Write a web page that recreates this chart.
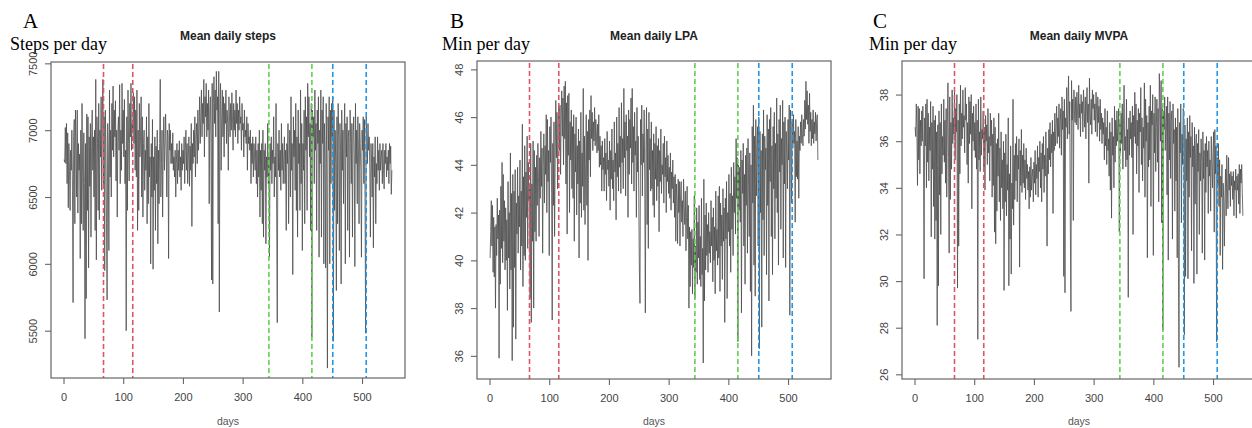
<!DOCTYPE html>
<html>
<head>
<meta charset="utf-8">
<script src="https://cdn.jsdelivr.net/npm/d3@7"></script>
<style>
  body { margin: 0; background: #fff; }
  svg { display: block; }
</style>
</head>
<body>
<div id="chart"></div>
<script>
// Mean daily steps, days 1..550
const stepsValues = [
  6780, 6760, 7020, 6750, 7050, 6600, 6980, 6420, 6900, 6700,
  6400, 6850, 6700, 7000, 6550, 5710, 6950, 7080, 6300, 7150,
  6880, 6500, 7150, 6380, 6900, 6700, 6820, 6040, 7000, 6300,
  7200, 6650, 6250, 6980, 6600, 5440, 6900, 5740, 7120, 6400,
  7100, 5970, 6950, 6580, 7050, 6200, 6880, 7150, 6700, 6950,
  6500, 7000, 6250, 7380, 6030, 7100, 6900, 6400, 7200, 6330,
  7000, 6800, 7250, 6550, 7120, 7380, 6600, 7100, 5950, 7150,
  6900, 6300, 5730, 7050, 6850, 6100, 7300, 6650, 7000, 6500,
  7200, 6850, 7330, 6800, 7150, 6950, 7220, 6620, 7000, 6350,
  6980, 7100, 6850, 7340, 6600, 7000, 6700, 7350, 6900, 7150,
  6800, 7230, 6600, 6850, 5500, 7100, 6400, 7300, 6900, 6620,
  7200, 6950, 7350, 6850, 7050, 7000, 7280, 6900, 7250, 6700,
  7150, 6650, 7300, 6250, 7000, 6400, 7200, 6800, 6950, 7250,
  6500, 7100, 6350, 6900, 7000, 6550, 6850, 6700, 7100, 6300,
  6950, 6450, 7200, 6650, 6800, 6000, 6900, 6500, 7080, 5960,
  6800, 6550, 6950, 6250, 6880, 6600, 7000, 6150, 6850, 6450,
  6900, 7380, 6500, 6750, 7000, 6350, 6850, 7100, 6700, 6900,
  7120, 6850, 6500, 7000, 6950, 6040, 7050, 6850, 7000, 6750,
  6900, 6750, 6980, 6700, 6800, 6650, 6850, 6500, 6750, 6900,
  6600, 6850, 6700, 6920, 6650, 6800, 6550, 6900, 6700, 6850,
  6750, 6950, 6600, 6850, 7000, 6700, 6900, 6600, 6800, 6950,
  6580, 6880, 6700, 7050, 6280, 6900, 6750, 7000, 6800, 7100,
  6650, 6950, 7050, 6750, 7150, 6850, 7000, 7250, 6900, 7100,
  7300, 6950, 7200, 7050, 7380, 6800, 7250, 7100, 7350, 6950,
  7200, 7000, 7300, 6450, 7150, 7250, 6900, 5880, 7350, 5850,
  7200, 7400, 7050, 7300, 6950, 7440, 7150, 7250, 6300, 7440,
  5640, 7200, 7350, 6700, 7100, 7300, 6950, 7250, 6800, 7200,
  7050, 7300, 6900, 7150, 7050, 6700, 7250, 7100, 6950, 7200,
  7000, 7280, 7100, 6850, 7200, 7000, 7150, 6950, 7300, 7050,
  7200, 6900, 7150, 7000, 7250, 7050, 7100, 6850, 7200, 7000,
  7050, 6800, 7150, 6950, 7000, 6900, 7100, 6700, 7050, 6900,
  6950, 6850, 7000, 6600, 6900, 6750, 6950, 6650, 6900, 6800,
  6700, 6950, 6600, 6850, 6500, 6900, 6650, 7000, 6350, 6850,
  6550, 6900, 6300, 7000, 6200, 6850, 6700, 6900, 6150, 6800,
  6650, 7050, 6600, 6800, 6050, 6900, 6700, 6950, 6600, 6850,
  6750, 7100, 6500, 6800, 6650, 7200, 6400, 5560, 6900, 6700,
  7000, 6650, 6850, 6550, 7050, 6700, 6900, 6600, 6800, 6950,
  6600, 6850, 6250, 6900, 6750, 7050, 6300, 6800, 7000, 6500,
  7250, 6700, 6900, 5920, 7100, 6800, 7000, 6550, 7200, 6400,
  6950, 6200, 7150, 6750, 6900, 6400, 7300, 6600, 7050, 6100,
  6900, 6700, 7150, 6300, 7250, 6850, 7100, 6400, 7350, 6950,
  7250, 6800, 7050, 6250, 7200, 5450, 7150, 6950, 7100, 6600,
  7300, 6850, 7050, 6250, 7150, 6900, 7250, 6050, 7000, 6750,
  7300, 6200, 7150, 6900, 7250, 6000, 7050, 6800, 5970, 7200,
  6700, 5220, 7100, 6850, 7250, 6000, 7150, 6600, 7200, 6950,
  7250, 5420, 7150, 6400, 7000, 6750, 5800, 7100, 6300, 7200,
  6950, 6100, 7050, 6850, 5850, 7150, 6700, 7000, 6450, 6980,
  7200, 6000, 7050, 6800, 7100, 6250, 6950, 7000, 6050, 7150,
  6900, 6600, 7050, 6200, 6950, 7100, 6800, 5980, 7200, 6750,
  7000, 6450, 7100, 6850, 6300, 7050, 6900, 6700, 6050, 7000,
  6850, 7100, 6600, 7080, 6500, 5480, 7100, 6950, 6750, 7050,
  6850, 6950, 6700, 6200, 6900, 6750, 6500, 6900, 6120, 6800,
  6650, 6950, 6300, 6750, 6600, 6950, 6700, 6850, 6550, 6900,
  6700, 6800, 6850, 6600, 6900, 6700, 6560, 6850, 6750, 6900,
  6650, 6800, 6700, 6850, 6600, 6900, 6750, 6880, 6520, 6700
]

// Mean daily LPA (min), days 1..550
const lpaValues = [
  40.1, 41.2, 42.5, 40.6, 42.3, 39.5, 41.8, 39.3, 41.4, 38.0,
  41.5, 40.2, 42.6, 40.9, 41.9, 35.9, 42.1, 39.0, 43.1, 40.5,
  44.1, 39.9, 43.6, 40.8, 42.5, 39.6, 42.2, 40.0, 41.7, 37.9,
  43.3, 40.1, 42.0, 38.8, 44.5, 39.6, 42.8, 35.8, 43.6, 37.2,
  42.9, 39.7, 43.8, 36.7, 42.4, 41.1, 43.9, 40.3, 42.7, 41.4,
  44.2, 39.6, 42.9, 40.6, 45.7, 38.9, 43.5, 40.2, 44.8, 40.0,
  43.7, 41.8, 45.2, 40.5, 44.1, 42.5, 43.0, 38.4, 44.9, 37.4,
  43.2, 40.8, 45.0, 38.0, 44.6, 41.2, 43.9, 40.8, 44.4, 42.3,
  44.9, 43.5, 41.0, 44.3, 42.6, 45.4, 43.1, 44.7, 40.3, 43.9,
  45.3, 42.4, 44.8, 43.6, 46.1, 42.0, 45.9, 43.3, 44.6, 40.2,
  45.6, 44.1, 46.0, 42.8, 37.5, 44.9, 42.3, 45.8, 41.0, 44.4,
  46.7, 44.3, 46.2, 43.0, 45.5, 46.4, 44.6, 46.5, 43.6, 46.0,
  47.1, 45.2, 46.8, 44.0, 47.3, 45.1, 47.5, 43.2, 46.6, 41.1,
  46.9, 44.4, 47.0, 42.0, 45.8, 44.2, 46.3, 43.0, 45.6, 42.6,
  46.1, 40.8, 45.3, 43.7, 46.0, 41.9, 44.8, 43.2, 45.5, 40.1,
  45.0, 42.4, 46.2, 41.8, 44.5, 43.1, 47.2, 42.1, 45.2, 41.5,
  44.0, 46.1, 42.3, 45.4, 40.0, 45.9, 44.2, 46.3, 43.5, 46.9,
  45.1, 46.2, 44.6, 45.8, 45.0, 46.4, 44.8, 45.9, 45.3, 44.5,
  45.7, 44.6, 46.1, 43.9, 45.2, 44.0, 44.8, 42.9, 45.0, 43.8,
  44.3, 42.9, 45.1, 43.6, 44.5, 42.5, 45.4, 43.8, 44.2, 43.1,
  45.0, 42.1, 44.6, 43.4, 45.5, 43.0, 44.2, 42.5, 45.8, 43.7,
  44.5, 41.7, 46.0, 43.5, 44.9, 42.9, 46.4, 43.9, 45.2, 42.8,
  46.6, 44.1, 45.1, 43.0, 47.2, 44.3, 45.8, 42.7, 46.1, 44.6,
  45.2, 41.8, 46.3, 43.6, 45.9, 44.7, 46.8, 43.2, 47.2, 44.1,
  45.6, 42.9, 46.2, 44.4, 45.0, 41.8, 46.4, 43.7, 45.2, 42.6,
  39.6, 38.2, 45.9, 44.0, 46.5, 42.7, 45.3, 44.1, 46.3, 43.4,
  37.8, 44.8, 46.4, 41.5, 45.5, 40.5, 46.2, 43.8, 45.1, 42.9,
  45.8, 43.0, 44.6, 42.3, 45.3, 41.8, 44.9, 43.4, 45.6, 42.5,
  44.8, 43.1, 45.1, 41.2, 44.6, 43.3, 45.5, 42.8, 44.0, 43.6,
  44.9, 42.4, 45.2, 43.5, 44.3, 42.0, 45.0, 43.3, 44.4, 42.8,
  43.9, 42.6, 44.5, 42.1, 43.7, 43.0, 44.2, 42.4, 43.5, 41.8,
  43.6, 40.8, 43.2, 42.5, 40.7, 43.4, 42.0, 43.3, 40.6, 42.7,
  43.3, 41.6, 42.5, 41.0, 43.4, 42.2, 41.5, 42.9, 40.4, 41.8,
  43.1, 40.9, 42.3, 38.0, 41.4, 38.9, 41.2, 39.8, 41.3, 38.6,
  40.9, 39.7, 42.7, 38.4, 40.6, 39.5, 42.2, 39.0, 41.6, 40.1,
  42.3, 39.2, 41.0, 38.9, 42.6, 39.4, 40.5, 35.7, 43.4, 38.3,
  41.9, 39.6, 42.4, 40.2, 41.5, 39.5, 42.0, 40.3, 41.2, 39.9,
  42.5, 40.6, 41.8, 39.1, 42.2, 40.0, 41.4, 38.6, 42.9, 40.4,
  41.3, 39.8, 42.7, 40.1, 43.1, 38.7, 42.4, 40.6, 41.9, 39.2,
  43.0, 40.8, 42.2, 37.4, 42.6, 40.9, 43.3, 38.4, 42.0, 41.2,
  43.6, 40.6, 42.8, 39.5, 43.9, 41.3, 42.7, 40.2, 44.1, 42.0,
  43.5, 41.1, 45.1, 42.6, 44.3, 36.6, 44.0, 42.1, 43.9, 41.6,
  44.6, 37.8, 44.2, 42.8, 44.9, 40.6, 43.6, 39.0, 44.4, 42.3,
  44.7, 40.3, 45.1, 43.1, 41.0, 44.5, 38.7, 44.0, 36.0, 45.6,
  42.4, 46.5, 39.8, 45.2, 38.5, 45.9, 42.7, 44.8, 45.6, 40.6,
  46.0, 36.3, 45.4, 42.0, 44.6, 37.2, 45.3, 41.7, 46.3, 40.2,
  45.2, 43.8, 44.7, 39.4, 46.1, 42.3, 45.5, 38.3, 45.9, 43.3,
  46.4, 41.0, 44.8, 39.4, 45.6, 43.0, 46.2, 40.9, 44.9, 42.6,
  46.8, 42.0, 45.3, 39.8, 45.9, 43.7, 46.5, 41.3, 45.1, 44.0,
  46.7, 40.1, 45.8, 43.2, 46.0, 39.7, 45.4, 44.5, 43.0, 45.9,
  44.2, 46.5, 37.7, 46.3, 45.6, 42.4, 45.8, 44.7, 46.1, 44.9,
  45.4, 41.6, 45.9, 43.5, 45.0, 43.4, 45.6, 42.6, 45.2, 44.6,
  45.8, 44.9, 46.1, 45.3, 44.8, 45.9, 45.2, 46.7, 45.5, 47.5,
  45.9, 47.1, 45.7, 46.5, 44.9, 47.0, 45.4, 46.2, 44.8, 45.9,
  45.1, 46.3, 44.9, 45.8, 45.3, 46.2, 45.0, 45.9, 46.1, 44.2
]

// Mean daily MVPA (min), days 1..550
const mvpaValues = [
  36.6, 36.2, 37.6, 36.5, 34.1, 37.5, 35.2, 37.4, 34.6, 36.9,
  35.8, 37.3, 36.0, 37.5, 35.4, 30.1, 37.0, 35.8, 37.6, 34.0,
  37.8, 35.1, 37.2, 34.3, 36.6, 35.6, 37.7, 31.9, 36.8, 34.8,
  37.5, 33.2, 36.9, 31.8, 37.1, 32.6, 36.4, 28.1, 36.7, 29.8,
  37.3, 33.7, 36.8, 32.0, 37.6, 34.6, 36.2, 35.4, 37.8, 35.1,
  36.9, 34.2, 37.4, 33.6, 36.7, 38.5, 35.3, 31.2, 37.9, 33.5,
  36.8, 34.8, 38.2, 35.9, 37.0, 36.3, 38.1, 35.2, 37.4, 36.4,
  38.0, 29.7, 36.9, 31.5, 37.6, 34.6, 38.4, 35.8, 37.2, 36.1,
  38.2, 36.6, 37.1, 35.5, 38.3, 36.9, 37.6, 35.0, 36.8, 34.2,
  37.9, 35.9, 37.7, 36.3, 38.0, 33.1, 37.2, 36.0, 37.5, 35.6,
  36.8, 35.3, 37.6, 34.8, 36.9, 27.5, 37.8, 35.2, 36.4, 34.7,
  37.9, 35.4, 36.5, 36.1, 37.3, 34.9, 36.6, 33.9, 37.1, 36.0,
  36.7, 35.0, 37.4, 35.5, 36.2, 34.3, 37.2, 35.8, 36.9, 33.6,
  36.3, 34.1, 37.0, 32.1, 36.6, 31.6, 35.9, 33.0, 36.1, 34.5,
  37.2, 33.4, 35.7, 32.6, 36.4, 34.0, 35.2, 33.1, 36.0, 29.6,
  35.5, 33.4, 36.3, 32.8, 35.0, 33.9, 37.0, 29.8, 34.6, 31.8,
  35.8, 30.3, 34.2, 33.1, 37.8, 32.4, 35.4, 33.5, 35.9, 34.3,
  36.2, 33.4, 35.4, 34.8, 36.1, 30.6, 35.6, 34.1, 36.5, 33.8,
  35.4, 34.2, 35.9, 34.0, 35.2, 33.5, 35.7, 34.4, 35.0, 33.9,
  34.7, 33.1, 34.9, 33.6, 35.3, 33.9, 34.5, 34.8, 33.4, 35.1,
  34.2, 35.6, 33.7, 35.0, 34.4, 35.8, 33.6, 35.3, 34.7, 36.0,
  34.0, 35.5, 33.4, 35.9, 34.8, 36.2, 33.8, 35.4, 34.5, 36.4,
  35.0, 31.5, 35.7, 34.6, 36.5, 35.2, 36.8, 34.9, 36.3, 35.5,
  36.9, 32.9, 36.4, 35.6, 37.2, 35.8, 36.6, 37.5, 35.9, 37.0,
  36.2, 37.6, 35.7, 36.8, 37.4, 35.4, 37.9, 36.5, 37.3, 30.2,
  37.8, 29.5, 37.0, 36.6, 38.3, 36.1, 37.5, 38.8, 36.3, 37.7,
  32.3, 28.7, 38.6, 36.9, 37.8, 32.6, 38.2, 37.1, 36.8, 37.9,
  36.7, 38.1, 37.3, 36.5, 38.4, 37.0, 37.6, 36.2, 38.0, 37.2,
  37.7, 36.4, 38.2, 37.4, 36.6, 37.9, 36.1, 37.5, 38.3, 36.8,
  37.6, 34.2, 38.7, 37.1, 36.7, 37.8, 36.3, 38.2, 37.4, 38.0,
  36.9, 37.6, 36.4, 38.1, 37.3, 36.2, 37.9, 36.8, 37.5, 36.0,
  37.8, 36.5, 37.2, 35.9, 37.0, 36.3, 36.8, 35.2, 37.4, 35.8,
  36.6, 35.0, 37.3, 35.6, 36.1, 34.5, 36.8, 33.9, 36.4, 32.7,
  37.0, 35.4, 36.2, 34.0, 37.5, 35.1, 36.9, 35.8, 37.3, 36.0,
  36.6, 37.4, 32.1, 36.9, 35.5, 37.2, 35.9, 37.6, 34.8, 36.7,
  38.4, 35.6, 36.2, 34.9, 37.8, 35.2, 36.5, 29.3, 37.0, 35.4,
  37.3, 36.1, 36.8, 35.3, 37.5, 32.0, 37.1, 36.2, 38.1, 35.9,
  37.6, 34.6, 36.9, 35.8, 37.4, 33.8, 37.2, 36.4, 38.3, 35.0,
  37.0, 34.3, 36.6, 35.7, 38.5, 33.6, 37.8, 36.0, 37.1, 31.0,
  36.8, 34.9, 37.5, 35.2, 38.4, 33.2, 37.3, 36.7, 38.0, 31.1,
  37.2, 35.5, 37.9, 34.7, 36.6, 37.8, 35.1, 37.4, 33.4, 38.9,
  37.6, 36.0, 38.6, 32.5, 37.4, 27.9, 37.3, 36.5, 37.9, 35.6,
  36.8, 37.5, 33.7, 37.9, 30.9, 37.2, 35.2, 37.7, 34.4, 36.9,
  37.3, 31.8, 37.6, 35.9, 36.5, 33.0, 37.0, 34.3, 36.6, 31.0,
  37.4, 30.7, 26.3, 36.8, 35.5, 37.6, 32.5, 36.3, 35.0, 37.4,
  37.2, 27.7, 36.7, 30.2, 36.1, 34.3, 37.0, 30.1, 36.4, 33.6,
  37.1, 35.3, 36.2, 31.3, 36.8, 34.9, 35.8, 29.9, 36.6, 33.3,
  35.7, 36.3, 30.3, 35.9, 34.7, 36.5, 32.0, 35.5, 34.3, 36.1,
  35.1, 31.2, 36.4, 34.4, 35.6, 30.9, 35.9, 33.8, 36.2, 34.9,
  35.6, 32.9, 36.0, 34.5, 35.2, 33.0, 36.2, 35.1, 34.0, 35.5,
  36.4, 32.1, 36.5, 34.6, 35.8, 27.4, 35.3, 34.1, 35.9, 33.2,
  35.2, 31.1, 34.5, 33.6, 35.0, 30.5, 34.2, 33.4, 31.5, 33.7,
  34.8, 32.8, 35.4, 34.0, 33.1, 35.3, 33.9, 34.6, 33.2, 34.7,
  34.1, 34.5, 33.5, 34.7, 32.8, 34.3, 33.9, 34.8, 32.7, 34.5,
  33.9, 34.6, 33.3, 35.0, 32.9, 34.8, 34.2, 35.0, 33.8, 32.8
]

// dashed period markers (day) and their colours
const markerDays = [67, 116, 344, 416, 451, 507]
const markerColors = ['#DF536B', '#DF536B', '#61D04F', '#61D04F', '#2297E6', '#2297E6']

const dayTicks = [0, 100, 200, 300, 400, 500]
const stepsTicks = [5500, 6000, 6500, 7000, 7500]
const lpaTicks = [36, 38, 40, 42, 44, 46, 48]
const mvpaTicks = [26, 28, 30, 32, 34, 36, 38]

const panels = [
  { letter: 'A', unit: 'Steps per day', title: 'Mean daily steps', values: stepsValues,
    yTicks: stepsTicks, yDomain: [5146, 7510],
    box: { left: 51, right: 405, top: 62, bottom: 378 }, letterX: 23, unitX: 10 },
  { letter: 'B', unit: 'Min per day', title: 'Mean daily LPA', values: lpaValues,
    yTicks: lpaTicks, yDomain: [35.03, 48.35],
    box: { left: 477, right: 831, top: 61, bottom: 379 }, letterX: 450, unitX: 442 },
  { letter: 'C', unit: 'Min per day', title: 'Mean daily MVPA', values: mvpaValues,
    yTicks: mvpaTicks, yDomain: [25.8, 39.44],
    box: { left: 902, right: 1256, top: 61, bottom: 379 }, letterX: 873, unitX: 869 }
]

const svg = d3
  .select('#chart')
  .append('svg')
  .attr('width', 1252)
  .attr('height', 428)

svg.append('rect').attr('width', 1252).attr('height', 428).attr('fill', '#fff')

panels.forEach(drawPanel)

function drawPanel(p) {
  const b = p.box
  const g = svg.append('g')

  // R pads the day range by 4% on each side
  const xPositionScale = d3
    .scaleLinear()
    .domain([1 - 549 * 0.04, 550 + 549 * 0.04])
    .range([b.left, b.right])

  const yPositionScale = d3
    .scaleLinear()
    .domain(p.yDomain)
    .range([b.bottom, b.top])

  // panel letter + unit label
  g.append('text')
    .attr('x', p.letterX)
    .attr('y', 28)
    .attr('font-family', 'Liberation Serif, serif')
    .attr('font-size', 21)
    .attr('fill', '#000')
    .text(p.letter)

  g.append('text')
    .attr('x', p.unitX)
    .attr('y', 50)
    .attr('font-family', 'Liberation Serif, serif')
    .attr('font-size', 18)
    .attr('fill', '#000')
    .text(p.unit)

  g.append('text')
    .attr('x', (b.left + b.right) / 2)
    .attr('y', 40)
    .attr('text-anchor', 'middle')
    .attr('font-family', 'Liberation Sans, Arial, sans-serif')
    .attr('font-weight', 'bold')
    .attr('font-size', 12)
    .attr('fill', '#222')
    .text(p.title)

  // data line
  const line = d3
    .line()
    .x((d, i) => xPositionScale(i + 1))
    .y(d => yPositionScale(d))

  g.append('path')
    .datum(p.values)
    .attr('d', line)
    .attr('fill', 'none')
    .attr('stroke', '#4d4d4d')
    .attr('stroke-width', 0.8)

  // vertical dashed markers
  g.selectAll('.marker')
    .data(markerDays)
    .enter()
    .append('line')
    .attr('class', 'marker')
    .attr('x1', d => xPositionScale(d))
    .attr('x2', d => xPositionScale(d))
    .attr('y1', b.top + 2)
    .attr('y2', b.bottom)
    .attr('stroke', (d, i) => markerColors[i])
    .attr('stroke-width', 1.6)
    .attr('stroke-dasharray', '5,3')

  // box
  g.append('rect')
    .attr('x', b.left)
    .attr('y', b.top)
    .attr('width', b.right - b.left)
    .attr('height', b.bottom - b.top)
    .attr('fill', 'none')
    .attr('stroke', '#666')
    .attr('stroke-width', 1.2)

  // x axis
  const xAxis = d3
    .axisBottom(xPositionScale)
    .tickValues(dayTicks)
    .tickSize(6)
    .tickPadding(9)
    .tickSizeOuter(0)

  const gx = g.append('g')
    .attr('transform', 'translate(0,' + b.bottom + ')')
    .call(xAxis)
  gx.select('.domain').remove()
  gx.selectAll('line').attr('stroke', '#666').attr('stroke-width', 1.1)
  gx.selectAll('text')
    .attr('font-family', 'Liberation Sans, Arial, sans-serif')
    .attr('font-size', 11)
    .attr('fill', '#444')

  // y axis, labels rotated like base R
  const yAxis = d3
    .axisLeft(yPositionScale)
    .tickValues(p.yTicks)
    .tickFormat(d3.format('d'))
    .tickSize(6)
    .tickSizeOuter(0)

  const gy = g.append('g')
    .attr('transform', 'translate(' + b.left + ',0)')
    .call(yAxis)
  gy.select('.domain').remove()
  gy.selectAll('line').attr('stroke', '#666').attr('stroke-width', 1.1)
  gy.selectAll('text')
    .attr('x', null)
    .attr('dy', '0.35em')
    .attr('text-anchor', 'middle')
    .attr('transform', 'translate(-18,0) rotate(-90)')
    .attr('font-family', 'Liberation Sans, Arial, sans-serif')
    .attr('font-size', 11)
    .attr('fill', '#444')

  g.append('text')
    .attr('x', (b.left + b.right) / 2)
    .attr('y', 425)
    .attr('text-anchor', 'middle')
    .attr('font-family', 'Liberation Sans, Arial, sans-serif')
    .attr('font-size', 10.5)
    .attr('fill', '#555')
    .text('days')
}
</script>
</body>
</html>
